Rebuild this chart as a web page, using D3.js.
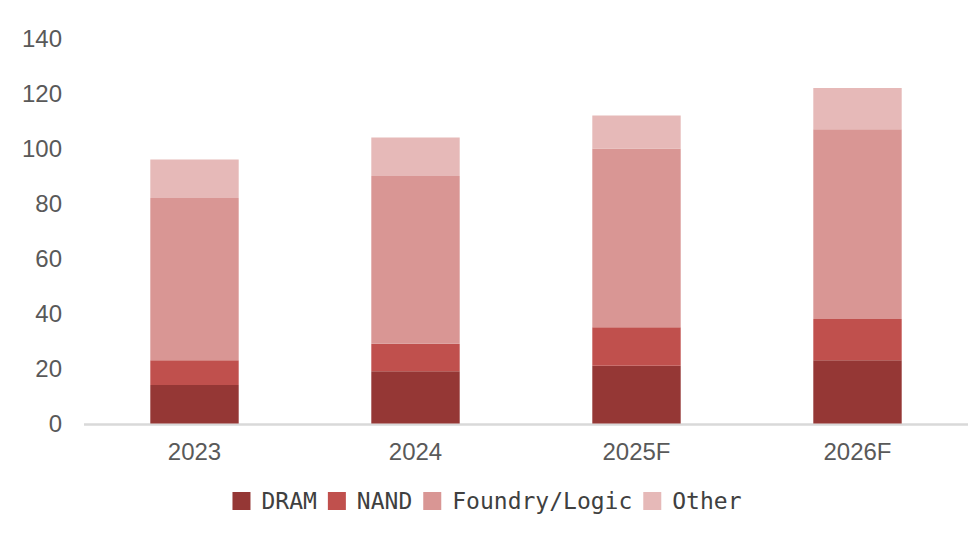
<!DOCTYPE html>
<html>
<head>
<meta charset="utf-8">
<script src="https://cdn.jsdelivr.net/npm/d3@7"></script>
<style>
  html, body { margin: 0; padding: 0; background: #fff; }
  svg { display: block; }
</style>
</head>
<body>
<svg id="chart" width="980" height="557"></svg>
<script>
const categories = ["2023", "2024", "2025F", "2026F"];
const seriesNames = ["DRAM", "NAND", "Foundry/Logic", "Other"];
const dram = [14, 19, 21, 23];
const nand = [9, 10, 14, 15];
const foundry = [59, 61, 65, 69];
const other = [14, 14, 12, 15];
const yTicks = [0, 20, 40, 60, 80, 100, 120, 140];
const colors = ["#953735", "#C0504D", "#D99694", "#E6B9B8"];

const seriesValues = [dram, nand, foundry, other];
const rows = categories.map((c, i) => {
  const r = { cat: c };
  seriesNames.forEach((s, j) => r[s] = seriesValues[j][i]);
  return r;
});

const svg = d3.select("#chart");
const x = d3.scaleBand().domain(categories).range([84, 968]).paddingInner(0.6).paddingOuter(0.3);
const y = d3.scaleLinear().domain([0, 140]).range([423.5, 38.5]);

// Axis line
svg.append("line")
  .attr("x1", 84).attr("x2", 968)
  .attr("y1", y(0) + 1).attr("y2", y(0) + 1)
  .attr("stroke", "#d9d9d9").attr("stroke-width", 2.5);

const stack = d3.stack().keys(seriesNames)(rows);
svg.append("g").selectAll("g").data(stack).join("g")
  .attr("fill", (d, i) => colors[i])
  .selectAll("rect").data(d => d).join("rect")
  .attr("x", d => x(d.data.cat))
  .attr("width", x.bandwidth())
  .attr("y", d => y(d[1]))
  .attr("height", d => y(d[0]) - y(d[1]));

// Y axis labels
const yAxis = d3.axisLeft(y).tickValues(yTicks).tickSize(0).tickPadding(0);
const yg = svg.append("g").attr("transform", "translate(62,0)").call(yAxis);
yg.select(".domain").remove();
yg.selectAll("text")
  .attr("fill", "#595959")
  .style("font-family", "'Liberation Sans', Arial, sans-serif")
  .style("font-size", "24px");

// X axis labels
const xAxis = d3.axisBottom(x).tickSize(0).tickPadding(0);
const xg = svg.append("g").attr("transform", "translate(0,443)").call(xAxis);
xg.select(".domain").remove();
xg.selectAll("text")
  .attr("fill", "#595959")
  .style("font-family", "'Liberation Sans', Arial, sans-serif")
  .style("font-size", "24px");

// Legend
const lg = svg.append("g");
let cx = 0;
const items = [];
seriesNames.forEach((s, i) => {
  const g = lg.append("g");
  g.append("rect").attr("x", cx).attr("y", 492).attr("width", 18).attr("height", 18).attr("fill", colors[i]);
  const t = g.append("text").attr("x", cx + 29).attr("y", 509)
    .attr("fill", "#404040")
    .style("font-family", "'DejaVu Sans Mono', monospace")
    .style("font-size", "23px")
    .text(s);
  const w = t.node().getComputedTextLength();
  cx += 29 + w + 11;
});
const total = cx - 11;
lg.attr("transform", `translate(${487 - total / 2},0)`);
</script>
</body>
</html>
